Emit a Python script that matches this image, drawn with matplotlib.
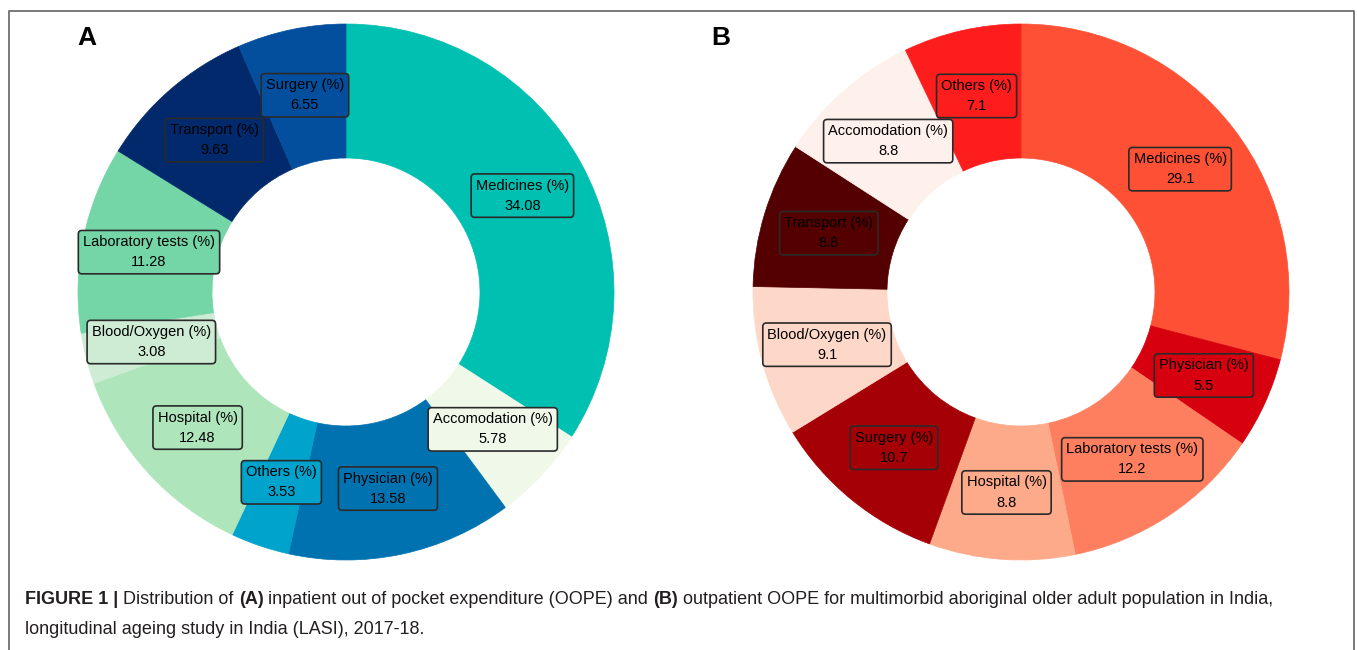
import matplotlib.pyplot as plt
import numpy as np
from matplotlib.lines import Line2D

plt.rcParams['font.family'] = ['Liberation Sans', 'DejaVu Sans']

# panel A - inpatient OOPE, clockwise from 12 o'clock
labels_a = ['Medicines', 'Accomodation', 'Physician', 'Others', 'Hospital',
            'Blood/Oxygen', 'Laboratory tests', 'Transport', 'Surgery']
values_a = [34.08, 5.78, 13.58, 3.53, 12.48, 3.08, 11.28, 9.63, 6.55]
colors_a = ['#00c0b2', '#f0f9e9', '#0072b0', '#00a3cc', '#afe5bb',
            '#cdecd3', '#74d5a7', '#01296b', '#034f9e']

# panel B - outpatient OOPE
labels_b = ['Medicines', 'Physician', 'Laboratory tests', 'Hospital', 'Surgery',
            'Blood/Oxygen', 'Transport', 'Accomodation', 'Others']
values_b = [29.1, 5.5, 12.2, 8.8, 10.7, 9.1, 8.8, 8.8, 7.1]
colors_b = ['#fd5035', '#d6000e', '#fd7f5f', '#fcaa89', '#a50006',
            '#fdd8c9', '#540000', '#fef0ea', '#fd1d1d']

W, H = 1357, 650


def donut(ax, labels, values, colors):
    wedges, _ = ax.pie(values, colors=colors, startangle=90, counterclock=False,
                       radius=1.0, wedgeprops=dict(width=0.5, linewidth=0.5))
    for w, lab, v, c in zip(wedges, labels, values, colors):
        w.set_edgecolor(c)
        ang = np.deg2rad((w.theta1 + w.theta2) / 2)
        x, y = 0.75 * np.cos(ang), 0.75 * np.sin(ang)
        ax.text(x, y, f'{lab} (%)\n{v:g}', ha='center', va='center',
                fontsize=10.5, color='black', multialignment='center', linespacing=1.55,
                bbox=dict(boxstyle='round,pad=0.32,rounding_size=0.25',
                          fc=c, ec='#2a2a2a', lw=1.2))
    ax.set_xlim(-1, 1)
    ax.set_ylim(-1, 1)
    ax.set_aspect('equal')
    ax.axis('off')


fig = plt.figure(figsize=(W / 100, H / 100), dpi=100)

axA = fig.add_axes([78 / W, 90 / H, 536 / W, 536 / H])
donut(axA, labels_a, values_a, colors_a)
axB = fig.add_axes([753 / W, 90 / H, 536 / W, 536 / H])
donut(axB, labels_b, values_b, colors_b)

fig.text(87 / W, 1 - 38 / H, 'A', fontsize=19, fontweight='bold', ha='center', va='center')
fig.text(721 / W, 1 - 38 / H, 'B', fontsize=19, fontweight='bold', ha='center', va='center')

# frame around the figure panel (open at bottom)
fig.add_artist(Line2D([9 / W, 9 / W, 1354 / W, 1354 / W],
                      [0, 1 - 10.5 / H, 1 - 10.5 / H, 0],
                      transform=fig.transFigure, color='#707070', lw=1.3))

# caption, built piece by piece so bold parts line up
cap_color = '#231f20'
cap_size = 13
pieces = [('FIGURE 1 | ', 'bold'), ('Distribution of ', 'normal'), ('(A)', 'bold'),
          (' inpatient out of pocket expenditure (OOPE) and ', 'normal'), ('(B)', 'bold'),
          (' outpatient OOPE for multimorbid aboriginal older adult population in India,', 'normal')]
prev = fig.text(25 / W, 1 - 604 / H, pieces[0][0], fontsize=cap_size, fontweight=pieces[0][1],
                color=cap_color, ha='left', va='baseline')
for txt, wt in pieces[1:]:
    prev = axA.annotate(txt, xy=(1, 0), xycoords=prev, ha='left', va='bottom',
                        fontsize=cap_size, fontweight=wt, color=cap_color,
                        annotation_clip=False)
fig.text(25 / W, 1 - 634 / H, 'longitudinal ageing study in India (LASI), 2017-18.',
         fontsize=cap_size, color=cap_color, ha='left', va='baseline')

fig.savefig('out.png', dpi=100)
